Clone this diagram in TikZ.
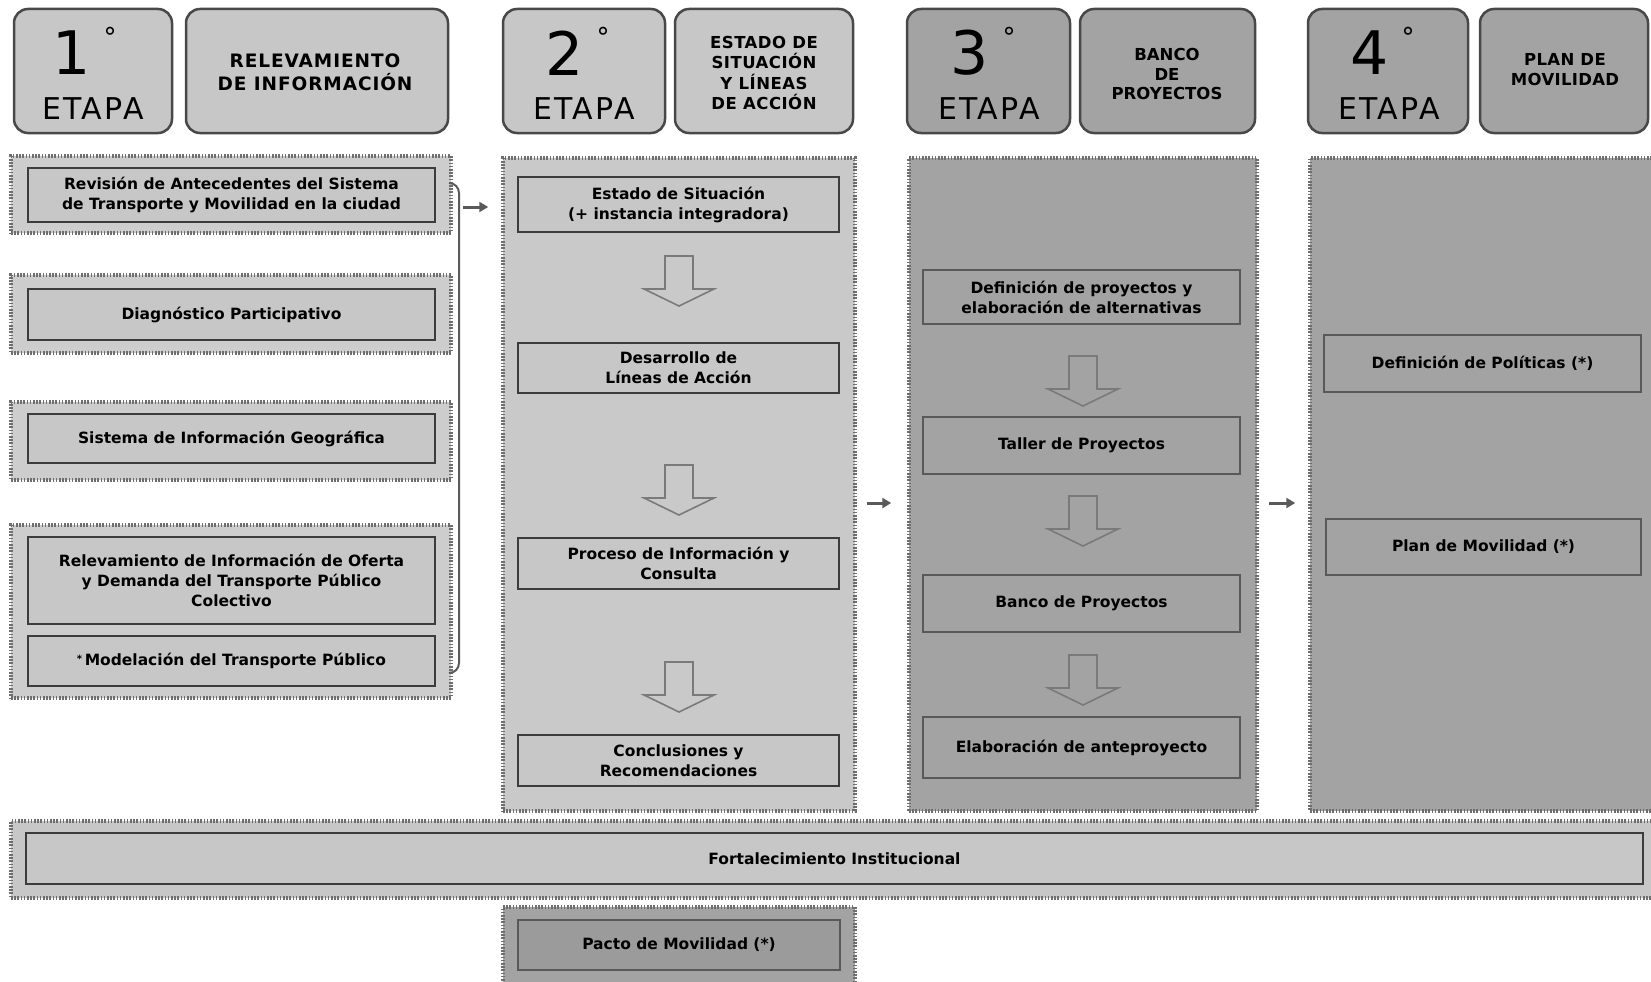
\documentclass[tikz,border=0pt]{standalone}
\usepackage{fontspec}
\setmainfont{DejaVu Sans}
\usetikzlibrary{calc,arrows.meta}
\definecolor{lightg}{HTML}{C7C7C7}
\definecolor{grpfill}{HTML}{CDCDCD}
\definecolor{ptwo}{HTML}{C9C9C9}
\definecolor{darkg}{HTML}{A3A3A3}
\definecolor{bord}{HTML}{484848}
\definecolor{ibord}{HTML}{3C3C3C}
\definecolor{dotc}{HTML}{6E6E6E}
\definecolor{arrc}{HTML}{5A5A5A}
\definecolor{blkc}{HTML}{7A7A7A}
\newcommand\bx[6][]{\node[#1, minimum width={(#4-#2)*1pt}, minimum height={(#5-#3)*1pt}] (#6) at ({(#2+#4)/2},{(#3+#5)/2})}
\tikzset{
  hdr/.style={draw=bord, line width=2.5, rounded corners=14, inner sep=0},
  hdrL/.style={hdr, fill=lightg},
  hdrD/.style={hdr, fill=darkg},
  grp/.style={draw=dotc, line width=3.5, dash pattern=on 1.6 off 1.6, inner sep=0},
  ibox/.style={draw=ibord, line width=2.5, inner sep=0, align=center,
    font=\fontsize{15.5}{20}\selectfont\bfseries},
  iboxD/.style={ibox, draw=ibord!85, line width=2.2, fill=darkg},
  digit/.style={font=\fontsize{60}{60}\selectfont, inner sep=0},
  degr/.style={font=\fontsize{26}{26}\selectfont, inner sep=0},
  etapa/.style={font=\fontsize{30}{30}\selectfont\addfontfeatures{LetterSpace=8}, inner sep=0},
  ttl/.style={align=center, inner sep=0, font=\fontsize{16.5}{20.5}\selectfont\bfseries\addfontfeatures{LetterSpace=3}},
  conn/.style={draw=arrc, line width=3, -{Triangle[length=9,width=10]}},
  brk/.style={draw=arrc, line width=2, rounded corners=10},
  pics/blk/.style={code={\draw[blkc, line width=1.6, fill=#1] (-14,0) -- (14,0) -- (14,33) -- (35,33) -- (0,50) -- (-35,33) -- (-14,33) -- cycle;}}
}
\begin{document}
\begin{tikzpicture}[x=1pt,y=-1pt]
\useasboundingbox (0,0) rectangle (1651,982);
\fill[white] (0,0) rectangle (1651,982);

% ---------- headers ----------
\bx[hdrL]{14}{9}{172}{133}{b1} {};
\node[digit] (n1) at (72,53) {1};
\node[degr] (d1) at (110,37) {°};
\node[etapa] (e1) at (93,109) {ETAPA};
\bx[hdrL]{186}{9}{448}{133}{h1} {};
\node[ttl, font=\fontsize{18.5}{23}\selectfont\bfseries\addfontfeatures{LetterSpace=5}] (t1) at (315,72) {RELEVAMIENTO\\DE INFORMACIÓN};

\bx[hdrL]{503}{9}{665}{133}{b2} {};
\node[digit] (n2) at (565,53) {2};
\node[degr] (d2) at (603,37) {°};
\node[etapa] (e2) at (584,109) {ETAPA};
\bx[hdrL]{675}{9}{853}{133}{h2} {};
\node[ttl] (t2) at (764,73) {ESTADO DE\\SITUACIÓN\\Y LÍNEAS\\DE ACCIÓN};

\bx[hdrD]{907}{9}{1070}{133}{b3} {};
\node[digit] (n3) at (970,53) {3};
\node[degr] (d3) at (1009,37) {°};
\node[etapa] (e3) at (989,109) {ETAPA};
\bx[hdrD]{1080}{9}{1255}{133}{h3} {};
\node[ttl, font=\fontsize{16.5}{19.5}\selectfont\bfseries] (t3) at (1167,74) {BANCO\\DE\\PROYECTOS};

\bx[hdrD]{1308}{9}{1468}{133}{b4} {};
\node[digit] (n4) at (1370,53) {4};
\node[degr] (d4) at (1408,37) {°};
\node[etapa] (e4) at (1389,109) {ETAPA};
\bx[hdrD]{1480}{9}{1648}{133}{h4} {};
\node[ttl, font=\fontsize{16.5}{20}\selectfont\bfseries\addfontfeatures{LetterSpace=2}] (t4) at (1565,70) {PLAN DE\\MOVILIDAD};

% ---------- column 1 ----------
\bx[grp, fill=grpfill]{11}{156}{451}{233}{g1} {};
\bx[ibox, fill=lightg]{28}{168}{435}{222}{c1a} {Revisión de Antecedentes del Sistema\\de Transporte y Movilidad en la ciudad};
\bx[grp, fill=grpfill]{11}{275}{451}{353}{g2} {};
\bx[ibox, fill=lightg]{28}{289}{435}{340}{c1b} {Diagnóstico Participativo};
\bx[grp, fill=grpfill]{11}{402}{451}{480}{g3} {};
\bx[ibox, fill=lightg]{28}{414}{435}{463}{c1c} {Sistema de Información Geográfica};
\bx[grp, fill=grpfill]{11}{525}{451}{698}{g4} {};
\bx[ibox, fill=lightg]{28}{537}{435}{624}{c1d} {Relevamiento de Información de Oferta\\y Demanda del Transporte Público\\Colectivo};
\bx[ibox, fill=lightg]{28}{636}{435}{686}{c1e} {\raisebox{0.35ex}{\fontsize{10}{10}\selectfont*}\,Modelación del Transporte Público};

\draw[brk] (449,183) -- (459,183) -- (459,673) -- (449,673);
\coordinate (brkout) at (463,207);

% ---------- column 2 ----------
\bx[grp, fill=ptwo]{503}{158}{855}{811}{p2} {};
\bx[ibox, fill=lightg]{518}{177}{839}{232}{c2a} {Estado de Situación\\(+ instancia integradora)};
\bx[ibox, fill=lightg]{518}{343}{839}{393}{c2b} {Desarrollo de\\Líneas de Acción};
\bx[ibox, fill=lightg]{518}{538}{839}{589}{c2c} {Proceso de Información y\\Consulta};
\bx[ibox, fill=lightg]{518}{735}{839}{786}{c2d} {Conclusiones y\\Recomendaciones};
\pic at (679,256) {blk=ptwo};
\pic at (679,465) {blk=ptwo};
\pic at (679,662) {blk=ptwo};

% ---------- column 3 ----------
\bx[grp, fill=darkg]{909}{158}{1257}{811}{p3} {};
\bx[iboxD]{923}{270}{1240}{324}{c3a} {Definición de proyectos y\\elaboración de alternativas};
\bx[iboxD]{923}{417}{1240}{474}{c3b} {Taller de Proyectos};
\bx[iboxD]{923}{575}{1240}{632}{c3c} {Banco de Proyectos};
\bx[iboxD]{923}{717}{1240}{778}{c3d} {Elaboración de anteproyecto};
\pic at (1083,356) {blk=darkg};
\pic at (1083,496) {blk=darkg};
\pic at (1083,655) {blk=darkg};

% ---------- column 4 ----------
\bx[grp, fill=darkg]{1310}{158}{1668}{811}{p4} {};
\bx[iboxD]{1324}{335}{1641}{392}{c4a} {Definición de Políticas (*)};
\bx[iboxD]{1326}{519}{1641}{575}{c4b} {Plan de Movilidad (*)};

% ---------- bottom ----------
\bx[grp, fill=lightg]{11}{821}{1668}{898}{fo} {};
\bx[ibox, fill=lightg]{26}{833}{1643}{884}{foi} {Fortalecimiento Institucional};
\bx[grp, fill=darkg]{503}{907}{855}{995}{pa} {};
\bx[iboxD, fill=darkg!95!black]{518}{920}{840}{970}{pai} {Pacto de Movilidad (*)};

% ---------- connectors ----------
\draw[conn, shorten >=13] (brkout) -- (p2.west |- brkout);
\coordinate (m23) at (867,503);
\draw[conn, shorten >=16] (m23) -- (p3.west |- m23);
\coordinate (m34) at (1269,503);
\draw[conn, shorten >=13] (m34) -- (p4.west |- m34);
\end{tikzpicture}
\end{document}
